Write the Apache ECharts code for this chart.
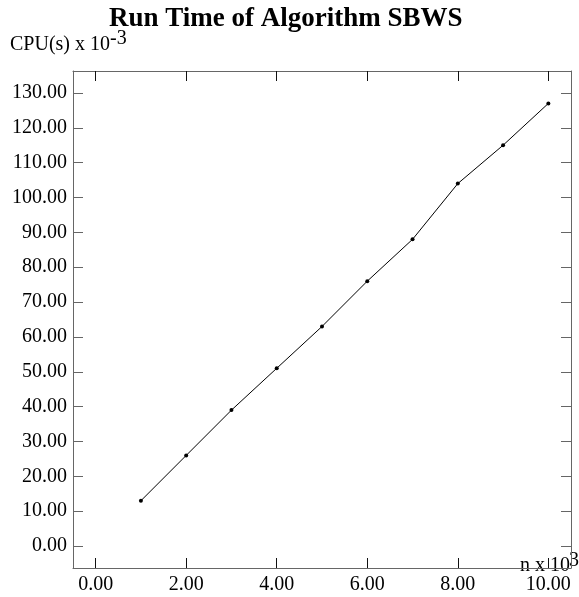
<!DOCTYPE html>
<html>
<head>
<meta charset="utf-8">
<script src="https://cdn.jsdelivr.net/npm/echarts@6/dist/echarts.min.js"></script>
<style>
    html, body { margin: 0; padding: 0; background: #fff; }
    #chart { width: 579px; height: 597px; }
</style>
</head>
<body>
<div id="chart"></div>
<script>
// n x 10^3
let nValues = [1, 2, 3, 4, 5, 6, 7, 8, 9, 10]
// CPU(s) x 10^-3
let cpuValues = [13, 26, 39, 51, 63, 76, 88, 104, 115, 127]
let xTicks = [0, 2, 4, 6, 8, 10]
let yTicks = [0, 10, 20, 30, 40, 50, 60, 70, 80, 90, 100, 110, 120, 130]

let font = 'Liberation Serif'
let myChart = echarts.init(document.getElementById('chart'))

function makeX(pos, showLabel) {
    return {
        type: 'value',
        position: pos,
        min: -0.5,
        max: 10.5,
        axisLine: { show: true, onZero: false, lineStyle: { color: '#666', width: 1 } },
        axisTick: { show: true, inside: true, length: 10, customValues: xTicks, lineStyle: { color: '#111' } },
        axisLabel: {
            show: showLabel,
            customValues: xTicks,
            margin: 7,
            color: '#000',
            fontFamily: font,
            fontSize: 20,
            formatter: function (v) { return v.toFixed(2) }
        },
        splitLine: { show: false }
    }
}

function makeY(pos, showLabel) {
    return {
        type: 'value',
        position: pos,
        min: -6.3,
        max: 136.3,
        axisLine: { show: true, onZero: false, lineStyle: { color: '#666', width: 1 } },
        axisTick: { show: true, inside: true, length: 10, customValues: yTicks, lineStyle: { color: '#666' } },
        axisLabel: {
            show: showLabel,
            customValues: yTicks,
            margin: 6,
            color: '#000',
            fontFamily: font,
            fontSize: 20,
            formatter: function (v) { return v.toFixed(2) }
        },
        splitLine: { show: false }
    }
}

let option = {
    animation: false,
    backgroundColor: '#fff',
    title: {
        text: 'Run Time of Algorithm SBWS',
        left: 104,
        top: 1,
        textStyle: { fontFamily: font, fontSize: 27, fontWeight: 'bold', color: '#000' }
    },
    grid: { left: 73, right: 8, top: 71, bottom: 29, containLabel: false },
    xAxis: [makeX('bottom', true), makeX('top', false)],
    yAxis: [makeY('left', true), makeY('right', false)],
    graphic: [
        // axis captions
        { type: 'text', left: 10, top: 35, style: { text: 'CPU(s) x 10', font: '20px "Liberation Serif"', fill: '#000' } },
        { type: 'text', left: 110, top: 29, style: { text: '-3', font: '20px "Liberation Serif"', fill: '#000' } },
        { type: 'text', left: 520, top: 556, style: { text: 'n x 10', font: '20px "Liberation Serif"', fill: '#000' } },
        { type: 'text', left: 569, top: 551, style: { text: '3', font: '20px "Liberation Serif"', fill: '#000' } }
    ],
    series: [{
        type: 'line',
        data: nValues.map(function (n, i) { return [n, cpuValues[i]] }),
        symbol: 'circle',
        symbolSize: 4,
        showAllSymbol: true,
        lineStyle: { color: '#000', width: 1 },
        itemStyle: { color: '#000' }
    }]
}
myChart.setOption(option)
</script>
</body>
</html>
